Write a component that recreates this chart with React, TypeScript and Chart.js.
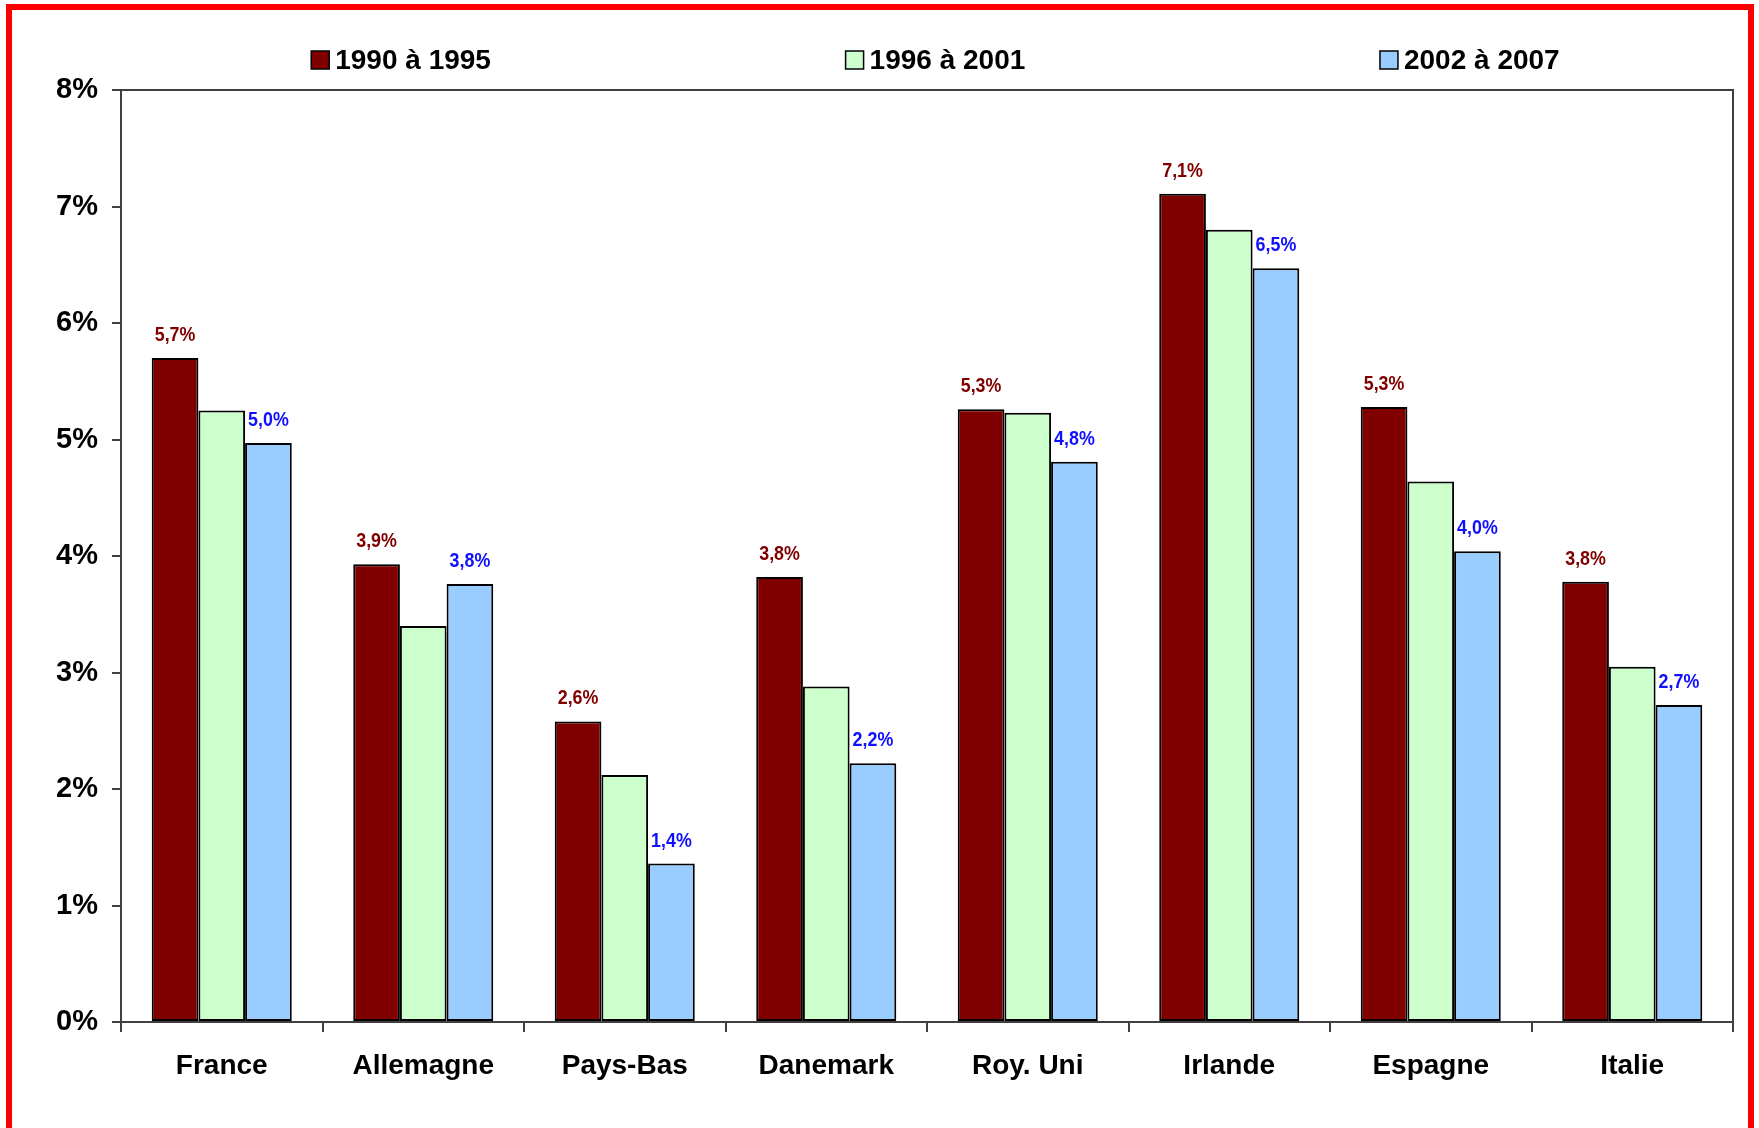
import React, { useEffect, useRef } from 'react';
import { Chart, registerables } from 'chart.js';

Chart.register(...registerables);

const categories = ['France', 'Allemagne', 'Pays-Bas', 'Danemark', 'Roy. Uni', 'Irlande', 'Espagne', 'Italie'];
const seriesLabels = ['1990 à 1995', '1996 à 2001', '2002 à 2007'];
const values1990to1995 = [5.70, 3.93, 2.58, 3.82, 5.26, 7.11, 5.28, 3.78];
const values1996to2001 = [5.25, 3.40, 2.12, 2.88, 5.23, 6.80, 4.64, 3.05];
const values2002to2007 = [4.97, 3.76, 1.36, 2.22, 4.81, 6.47, 4.04, 2.72];
const yMin = 0;
const yMax = 8;
const yStep = 1;

const seriesColors = ['#800000', '#CCFFCC', '#99CCFF'];
const labelColors = ['#800000', null, '#1010FF'];

const FONT = "'Liberation Sans', Arial, Helvetica, sans-serif";

const fmt = (v: number) => v.toFixed(1).replace('.', ',') + '%';

const framePlugin = {
  id: 'frame',
  afterDraw(chart: any) {
    const { ctx, chartArea } = chart;
    ctx.save();
    ctx.strokeStyle = '#404040';
    ctx.lineWidth = 2;
    ctx.beginPath();
    ctx.moveTo(chartArea.left, chartArea.top);
    ctx.lineTo(chartArea.right, chartArea.top);
    ctx.lineTo(chartArea.right, chartArea.bottom);
    ctx.stroke();
    ctx.restore();
  },
};

const valueLabelPlugin = {
  id: 'valueLabels',
  afterDatasetsDraw(chart: any) {
    const { ctx } = chart;
    const sx = 0.85;
    chart.data.datasets.forEach((ds: any, di: number) => {
      const color = labelColors[di];
      if (!color) return;
      const meta = chart.getDatasetMeta(di);
      meta.data.forEach((bar: any, i: number) => {
        ctx.save();
        ctx.translate(bar.x, bar.y - 17);
        ctx.scale(sx, 1);
        ctx.font = `bold 21px ${FONT}`;
        ctx.textAlign = 'center';
        ctx.textBaseline = 'alphabetic';
        ctx.fillStyle = color;
        ctx.fillText(fmt(ds.data[i]), 0, 0);
        ctx.restore();
      });
    });
  },
};

const legendPlugin = {
  id: 'customLegend',
  afterDraw(chart: any) {
    const { ctx, chartArea } = chart;
    const w = chartArea.right - chartArea.left;
    ctx.save();
    ctx.font = `bold 28px ${FONT}`;
    ctx.textBaseline = 'middle';
    ctx.textAlign = 'left';
    const cy = 60;
    chart.data.datasets.forEach((ds: any, i: number) => {
      const x = chartArea.left + w * (0.118 + i * 0.3315);
      ctx.fillStyle = ds.backgroundColor;
      ctx.fillRect(x, cy - 9, 18, 18);
      ctx.strokeStyle = '#000';
      ctx.lineWidth = 1.5;
      ctx.strokeRect(x, cy - 9, 18, 18);
      ctx.fillStyle = '#000';
      ctx.fillText(ds.label, x + 24, cy + 1);
    });
    ctx.restore();
  },
};

export default function App() {
  const ref = useRef<HTMLCanvasElement | null>(null);

  useEffect(() => {
    document.body.style.margin = '0';
    document.body.style.overflow = 'hidden';
    if (!ref.current) return;
    const series = [values1990to1995, values1996to2001, values2002to2007];
    const chart = new Chart(ref.current, {
      type: 'bar',
      data: {
        labels: categories,
        datasets: series.map((vals, i) => ({
          label: seriesLabels[i],
          data: vals,
          backgroundColor: seriesColors[i],
          borderColor: '#000000',
          borderWidth: 2,
          borderSkipped: false,
          categoryPercentage: 0.695,
          barPercentage: 1.0,
        })),
      },
      options: {
        responsive: false,
        animation: false,
        devicePixelRatio: 1,
        layout: { padding: { top: 90, right: 26, bottom: 0, left: 0 } },
        plugins: {
          legend: { display: false },
          tooltip: { enabled: false },
        },
        scales: {
          x: {
            offset: true,
            grid: {
              offset: true,
              drawOnChartArea: false,
              drawTicks: true,
              tickLength: 10,
              color: '#404040',
              lineWidth: 2,
            },
            border: { display: true, color: '#404040', width: 2 },
            ticks: {
              color: '#000',
              font: { family: FONT, size: 28, weight: 'bold' },
              padding: 17,
              maxRotation: 0,
            },
            afterFit(scale: any) {
              scale.height = 106;
            },
          },
          y: {
            min: yMin,
            max: yMax,
            grid: {
              drawOnChartArea: false,
              drawTicks: true,
              tickLength: 9,
              color: '#404040',
              lineWidth: 2,
            },
            border: { display: true, color: '#404040', width: 2 },
            ticks: {
              stepSize: yStep,
              color: '#000',
              font: { family: FONT, size: 29, weight: 'bold' },
              padding: 14,
              callback: (v: any) => `${v}%`,
            },
            afterFit(scale: any) {
              scale.width = 121;
            },
          },
        },
      },
      plugins: [framePlugin, valueLabelPlugin, legendPlugin],
    });
    return () => chart.destroy();
  }, []);

  return (
    <div style={{ position: 'relative', width: 1759, height: 1128, overflow: 'hidden', background: '#fff' }}>
      <canvas ref={ref} width={1759} height={1128} style={{ position: 'absolute', left: 0, top: 0, width: 1759, height: 1128 }} />
      <div
        style={{
          position: 'absolute',
          left: 6,
          top: 4,
          width: 1748,
          height: 1140,
          boxSizing: 'border-box',
          border: '6px solid #FF0000',
          borderBottom: 'none',
          pointerEvents: 'none',
        }}
      />
    </div>
  );
}
